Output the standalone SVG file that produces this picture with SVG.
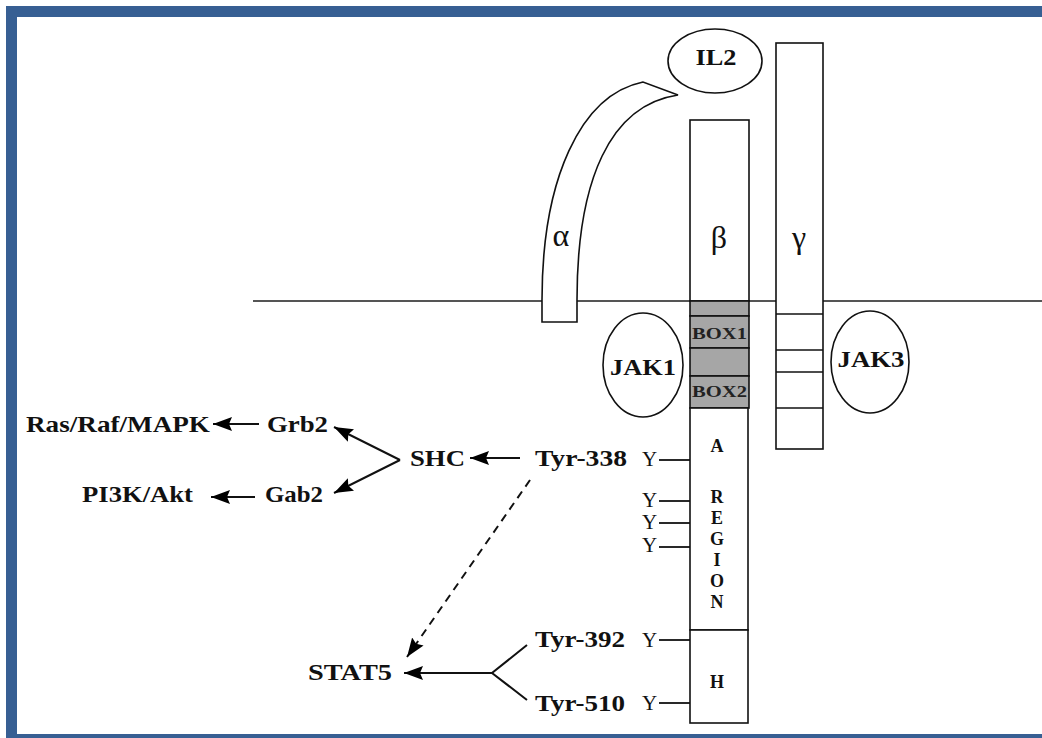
<svg xmlns="http://www.w3.org/2000/svg" width="1042" height="738" viewBox="0 0 1042 738">
<defs>
<marker id="ah" markerUnits="userSpaceOnUse" markerWidth="22" markerHeight="16" refX="19" refY="8" orient="auto">
<path d="M0,1 L19,8 L0,15 L3,8 Z" fill="#000"/>
</marker>
<style>
.lbl{font-family:"Liberation Serif","Times New Roman",serif;font-weight:bold;font-size:24px;fill:#111}
.y{font-family:"Liberation Serif","Times New Roman",serif;font-size:21px;fill:#111}
.reg{font-family:"Liberation Serif","Times New Roman",serif;font-weight:bold;font-size:18px;fill:#111;text-anchor:middle}
.box{font-family:"Liberation Serif","Times New Roman",serif;font-weight:bold;font-size:17px;fill:#222}
.greek{font-family:"Liberation Serif","Times New Roman",serif;font-size:32px;fill:#111;text-anchor:middle}
.sh{fill:#fff;stroke:#111;stroke-width:1.6}
.gray{fill:#a6a6a6;stroke:#111;stroke-width:1.6}
.conn{stroke:#111;stroke-width:2;fill:none}
</style>
</defs>
<rect width="1042" height="738" fill="#fff"/>
<g id="border" fill="#375f93">
<rect x="6" y="6" width="1036" height="11"/>
<rect x="6" y="6" width="11" height="732"/>
<rect x="6" y="734" width="1036" height="4"/>
</g>
<line id="membrane" x1="253" y1="301" x2="1042" y2="301" stroke="#555" stroke-width="2"/>

<g id="il2">
<ellipse cx="715" cy="61" rx="47" ry="32" class="sh"/>
<text x="716" y="65" class="lbl" text-anchor="middle" textLength="41" lengthAdjust="spacingAndGlyphs">IL2</text>
</g>

<g id="alpha">
<path d="M542,322 L542,300 C542,180 580,95 643,82 L678,95 C610,105 577,180 577,300 L577,322 Z" class="sh"/>
<text x="561" y="246" class="greek">α</text>
</g>

<g id="beta">
<rect x="690" y="120" width="59" height="181" class="sh"/>
<text x="719" y="248" class="greek">β</text>
<rect x="690" y="301" width="59" height="15" class="gray"/>
<rect x="690" y="316" width="59" height="32" class="gray"/>
<text x="692" y="339" class="box" textLength="55" lengthAdjust="spacingAndGlyphs">BOX1</text>
<rect x="690" y="348" width="59" height="28" class="gray"/>
<rect x="690" y="376" width="59" height="32" class="gray"/>
<text x="692" y="397" class="box" textLength="55" lengthAdjust="spacingAndGlyphs">BOX2</text>
</g>

<g id="a-region">
<rect x="690" y="408" width="58" height="222" class="sh" stroke-width="2.2"/>
<text x="717" y="452" class="reg">A</text>
<text x="717" y="503" class="reg">R</text>
<text x="717" y="524" class="reg">E</text>
<text x="717" y="545" class="reg">G</text>
<text x="717" y="566" class="reg">I</text>
<text x="717" y="587" class="reg">O</text>
<text x="717" y="608" class="reg">N</text>
</g>

<g id="h-region">
<rect x="690" y="630" width="58" height="93" class="sh" stroke-width="2.2"/>
<text x="717" y="688" class="reg">H</text>
</g>

<g id="gamma">
<rect x="776" y="43" width="47" height="406" class="sh"/>
<line x1="776" y1="314" x2="823" y2="314" stroke="#111" stroke-width="1.6"/>
<line x1="776" y1="350" x2="823" y2="350" stroke="#111" stroke-width="1.6"/>
<line x1="776" y1="372" x2="823" y2="372" stroke="#111" stroke-width="1.6"/>
<line x1="776" y1="408" x2="823" y2="408" stroke="#111" stroke-width="1.6"/>
<text x="799" y="248" class="greek">γ</text>
</g>

<g id="jak1">
<ellipse cx="643" cy="365" rx="40" ry="52" class="sh"/>
<text x="643" y="375" class="lbl" text-anchor="middle" textLength="66" lengthAdjust="spacingAndGlyphs">JAK1</text>
</g>
<g id="jak3">
<ellipse cx="870" cy="362" rx="39" ry="51" class="sh"/>
<text x="871" y="367" class="lbl" text-anchor="middle" textLength="67" lengthAdjust="spacingAndGlyphs">JAK3</text>
</g>

<g id="tyrosines">
<text x="642" y="466" class="y">Y</text>
<text x="642" y="507" class="y">Y</text>
<text x="642" y="529" class="y">Y</text>
<text x="642" y="552" class="y">Y</text>
<text x="642" y="647" class="y">Y</text>
<text x="642" y="710" class="y">Y</text>
<g stroke="#111" stroke-width="1.8">
<line x1="659" y1="460" x2="690" y2="460"/>
<line x1="659" y1="501" x2="690" y2="501"/>
<line x1="659" y1="523" x2="690" y2="523"/>
<line x1="659" y1="547" x2="690" y2="547"/>
<line x1="659" y1="640" x2="690" y2="640"/>
<line x1="659" y1="703" x2="690" y2="703"/>
</g>
</g>

<g id="tyr338"><text x="535" y="466" class="lbl" textLength="92" lengthAdjust="spacingAndGlyphs">Tyr-338</text></g>
<g id="tyr392"><text x="535" y="647" class="lbl" textLength="90" lengthAdjust="spacingAndGlyphs">Tyr-392</text></g>
<g id="tyr510"><text x="535" y="711" class="lbl" textLength="90" lengthAdjust="spacingAndGlyphs">Tyr-510</text></g>
<g id="shc"><text x="410" y="466" class="lbl" textLength="55" lengthAdjust="spacingAndGlyphs">SHC</text></g>
<g id="grb2"><text x="267" y="432" class="lbl" textLength="61" lengthAdjust="spacingAndGlyphs">Grb2</text></g>
<g id="gab2"><text x="265" y="502" class="lbl" textLength="58" lengthAdjust="spacingAndGlyphs">Gab2</text></g>
<g id="ras"><text x="26" y="432" class="lbl" textLength="184" lengthAdjust="spacingAndGlyphs">Ras/Raf/MAPK</text></g>
<g id="pi3k"><text x="82" y="502" class="lbl" textLength="111" lengthAdjust="spacingAndGlyphs">PI3K/Akt</text></g>
<g id="stat5"><text x="308" y="680" class="lbl" textLength="84" lengthAdjust="spacingAndGlyphs">STAT5</text></g>

<g id="connectors">
<line x1="520" y1="458" x2="470" y2="458" class="conn" marker-end="url(#ah)"/>
<line x1="400" y1="460" x2="334" y2="427" class="conn" marker-end="url(#ah)"/>
<line x1="400" y1="460" x2="334" y2="493" class="conn" marker-end="url(#ah)"/>
<line x1="259" y1="424" x2="213" y2="424" class="conn" marker-end="url(#ah)"/>
<line x1="255" y1="497" x2="211" y2="497" class="conn" marker-end="url(#ah)"/>
<line x1="530" y1="480" x2="407" y2="657" class="conn" stroke-dasharray="8,6" marker-end="url(#ah)"/>
<line x1="492" y1="673" x2="404" y2="673" class="conn" marker-end="url(#ah)"/>
<polyline points="527,645 492,673 527,700" class="conn"/>
</g>
</svg>
